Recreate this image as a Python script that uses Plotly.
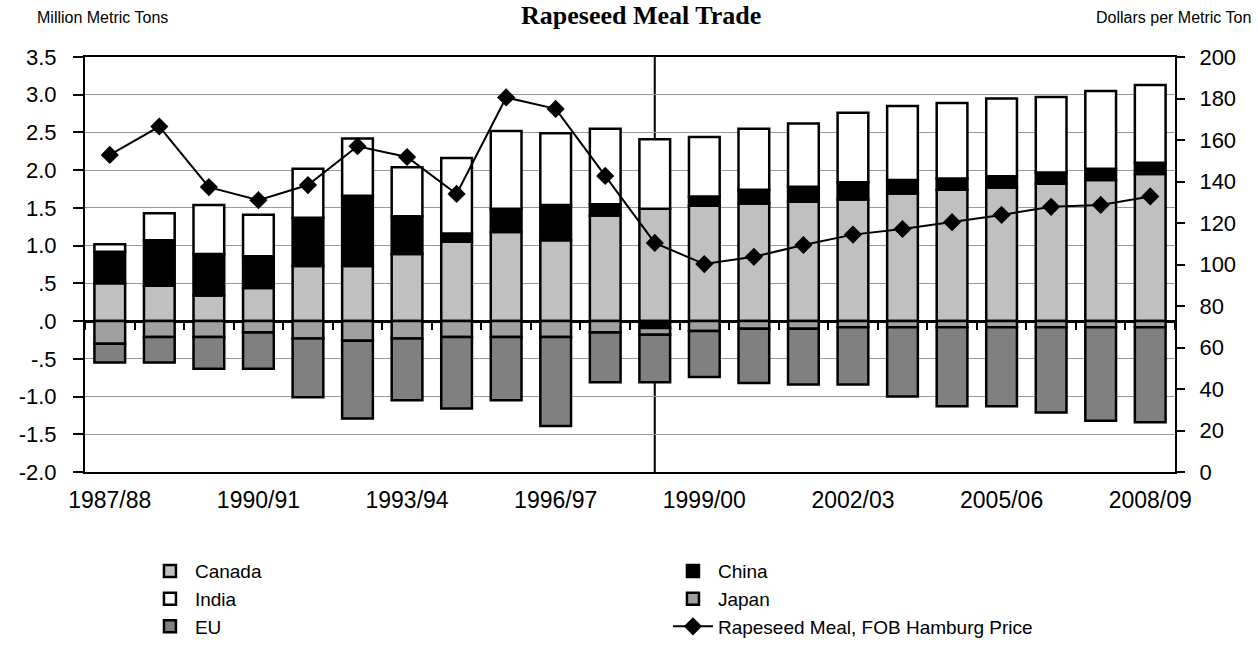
import plotly.graph_objects as go

categories = ["1987/88", "1988/89", "1989/90", "1990/91", "1991/92", "1992/93",
              "1993/94", "1994/95", "1995/96", "1996/97", "1997/98", "1998/99",
              "1999/00", "2000/01", "2001/02", "2002/03", "2003/04", "2004/05",
              "2005/06", "2006/07", "2007/08", "2008/09"]

canada = [0.50, 0.47, 0.34, 0.44, 0.73, 0.73, 0.89, 1.05, 1.18, 1.07, 1.40, 1.49,
          1.53, 1.56, 1.58, 1.61, 1.69, 1.74, 1.77, 1.82, 1.87, 1.95]
china = [0.42, 0.60, 0.55, 0.42, 0.64, 0.93, 0.50, 0.11, 0.31, 0.47, 0.15, -0.09,
         0.12, 0.18, 0.20, 0.23, 0.18, 0.15, 0.15, 0.15, 0.15, 0.15]
india = [0.10, 0.36, 0.65, 0.55, 0.65, 0.76, 0.65, 1.00, 1.03, 0.95, 1.00, 0.92,
         0.79, 0.81, 0.84, 0.92, 0.98, 1.00, 1.03, 1.00, 1.03, 1.03]
japan = [-0.30, -0.21, -0.21, -0.15, -0.23, -0.26, -0.23, -0.21, -0.21, -0.21, -0.15, -0.09,
         -0.13, -0.10, -0.10, -0.08, -0.08, -0.08, -0.08, -0.08, -0.08, -0.08]
eu = [-0.25, -0.34, -0.42, -0.48, -0.78, -1.03, -0.82, -0.95, -0.84, -1.18, -0.66, -0.63,
      -0.61, -0.72, -0.74, -0.76, -0.92, -1.05, -1.05, -1.13, -1.24, -1.26]
price = [152.8, 166.5, 137.3, 131.0, 138.3, 157.0, 151.8, 134.0, 180.5, 175.0, 142.7, 110.4,
         100.2, 103.7, 109.4, 114.4, 117.1, 120.4, 123.9, 127.8, 128.7, 132.8]

left_ticks = [-2.0, -1.5, -1.0, -0.5, 0.0, 0.5, 1.0, 1.5, 2.0, 2.5, 3.0, 3.5]
left_ticktext = ["-2.0", "-1.5", "-1.0", "-.5", ".0", ".5", "1.0", "1.5", "2.0", "2.5", "3.0", "3.5"]
label_categories = categories[::3]

bar_series = [
    ("Canada", canada, "#C0C0C0"),
    ("China", china, "#000000"),
    ("India", india, "#FFFFFF"),
    ("Japan", japan, "#A0A0A0"),
    ("EU", eu, "#808080"),
]

FONT = "Liberation Sans, Arial, sans-serif"
fig = go.Figure()

for name, vals, color in bar_series:
    fig.add_trace(go.Bar(
        x=categories, y=vals, name=name,
        marker=dict(color=color, line=dict(color="black", width=2.5)),
        xaxis="x", yaxis="y",
    ))

fig.add_trace(go.Scatter(
    x=categories, y=price, name="Rapeseed Meal, FOB Hamburg Price",
    mode="lines+markers", line=dict(color="black", width=2),
    marker=dict(symbol="diamond", size=14, color="black"),
    xaxis="x", yaxis="y2",
))

# invisible helper trace for the zero-line tick marks axis
fig.add_trace(go.Scatter(
    x=categories, y=[0] * len(categories), mode="markers",
    marker=dict(opacity=0), showlegend=False, hoverinfo="skip",
    xaxis="x2", yaxis="y",
))

zero_frac = (0 - left_ticks[0]) / (left_ticks[-1] - left_ticks[0])

fig.update_layout(
    width=1258, height=650,
    margin=dict(l=85, r=83, t=57, b=178, autoexpand=False),
    paper_bgcolor="white", plot_bgcolor="white",
    barmode="relative", bargap=0.38,
    font=dict(family=FONT, color="black"),
    xaxis=dict(
        type="category", categoryorder="array", categoryarray=categories,
        tickmode="array", tickvals=label_categories, ticktext=label_categories,
        ticks="", showgrid=False, showline=True, linecolor="black", linewidth=2,
        mirror=True, tickfont=dict(size=23, family=FONT), ticklabelstandoff=6,
        range=[-0.5, len(categories) - 0.5], automargin=False,
    ),
    xaxis2=dict(
        type="category", categoryorder="array", categoryarray=categories,
        overlaying="x", matches="x", anchor="free", position=zero_frac,
        tickson="boundaries", ticks="outside", ticklen=8, tickwidth=2, tickcolor="black",
        showticklabels=False, showgrid=False, showline=False, zeroline=False,
    ),
    yaxis=dict(
        range=[left_ticks[0], left_ticks[-1]], tickmode="array",
        tickvals=left_ticks, ticktext=left_ticktext,
        ticks="outside", ticklen=10, tickwidth=2, tickcolor="black",
        showline=True, linecolor="black", linewidth=2,
        showgrid=True, gridcolor="#999999", gridwidth=1,
        zeroline=True, zerolinecolor="black", zerolinewidth=2.5,
        tickfont=dict(size=22, family=FONT), ticklabelstandoff=12, automargin=False,
    ),
    yaxis2=dict(
        overlaying="y", side="right", range=[0, 200], dtick=20,
        ticks="outside", ticklen=8, tickwidth=2, tickcolor="black",
        showline=True, linecolor="black", linewidth=2,
        showgrid=False, zeroline=False,
        tickfont=dict(size=22, family=FONT), ticklabelstandoff=10, automargin=False,
    ),
    legend=dict(
        orientation="h", x=0.055, xanchor="left", y=-0.193, yanchor="top",
        entrywidth=468, entrywidthmode="pixels", traceorder="normal",
        font=dict(size=19, family=FONT), itemwidth=40,
    ),
    shapes=[dict(
        type="line", xref="x", x0="1998/99", x1="1998/99",
        yref="paper", y0=0, y1=1, line=dict(color="black", width=2), layer="between",
    )],
    annotations=[
        dict(text="<b>Rapeseed Meal Trade</b>", xref="paper", yref="paper",
             x=0.51, y=1.0, yshift=58, xanchor="center", yanchor="top", showarrow=False,
             font=dict(size=26, family="Liberation Serif, Times New Roman, serif")),
        dict(text="Million Metric Tons", xref="paper", yref="paper",
             x=-0.046, y=1.096, xanchor="left", yanchor="middle", showarrow=False,
             font=dict(size=16, family=FONT)),
        dict(text="Dollars per Metric Ton", xref="paper", yref="paper",
             x=1.0716, y=1.096, xanchor="right", yanchor="middle", showarrow=False,
             font=dict(size=16, family=FONT)),
    ],
)

fig.write_html("out.html", config={"displayModeBar": False},
               post_script="document.body.style.margin='0';")
